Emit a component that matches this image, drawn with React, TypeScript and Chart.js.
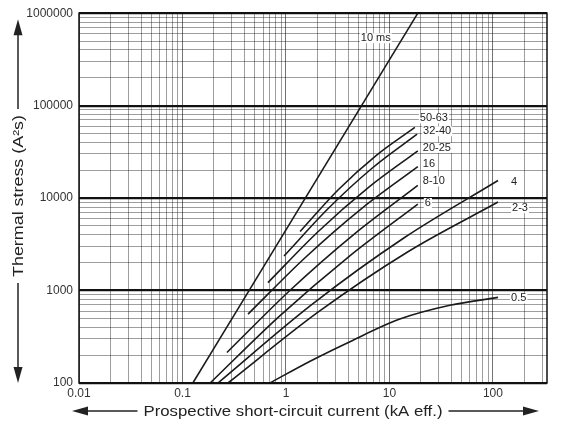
import { useEffect, useRef } from 'react';
import { Chart, registerables } from 'chart.js';
Chart.register(...registerables);

// ---- data (kA, A²s) ----
const xTickLabels = ['0.01', '0.1', '1', '10', '100'];
const yTickLabels = ['100', '1000', '10000', '100000', '1000000'];

const curveNames = ['10 ms', '50-63', '32-40', '20-25', '16', '8-10', '6', '4', '2-3', '0.5'];

const current10ms = [0.126, 18.8];
const stress10ms = [100, 1000000];
const current50_63 = [1.37, 3.2, 7.52, 17.6];
const stress50_63 = [4350, 12300, 29200, 58300];
const current32_40 = [0.957, 2.56, 6.88, 18.5];
const stress32_40 = [2360, 7710, 21300, 49100];
const current20_25 = [0.67, 2.04, 6.2, 18.8];
const stress20_25 = [1220, 4330, 12900, 32400];
const current16 = [0.43, 1.52, 5.34, 18.8];
const stress16 = [556, 2250, 7660, 21900];
const current8_10 = [0.269, 1.11, 4.57, 18.8];
const stress8_10 = [214, 1020, 4080, 13700];
const current6 = [0.185, 0.861, 4.03, 18.8];
const stress6 = [100, 526, 2320, 8630];
const current4 = [0.22, 1.76, 14.0, 112];
const stress4 = [100, 700, 3750, 15500];
const current2_3 = [0.275, 2.04, 15.1, 112];
const stress2_3 = [100, 583, 2630, 9060];
const current05 = [0.7, 1.71, 4.15, 12.6, 38.4, 112];
const stress05 = [100, 172, 280, 491, 692, 843];

const currents = [current10ms, current50_63, current32_40, current20_25, current16, current8_10, current6, current4, current2_3, current05];
const stresses = [stress10ms, stress50_63, stress32_40, stress20_25, stress16, stress8_10, stress6, stress4, stress2_3, stress05];

// label placement relative to the last point of each curve (style only)
const labelOffsets: [number, number][] = [
  [-57, 25], [5, -9], [6, -3], [5, -3], [5, -3], [5, -4], [7, -1], [13, 1], [14, 6], [13, 1],
];

const FONT = 'Arial, "Liberation Sans", sans-serif';

function isPow10(v: number) {
  const l = Math.log10(v);
  return Math.abs(l - Math.round(l)) < 1e-6;
}

function logTicks(min: number, max: number) {
  const out: { value: number; major: boolean }[] = [];
  for (let e = Math.floor(Math.log10(min)); e <= Math.ceil(Math.log10(max)); e++) {
    for (let k = 1; k <= 9; k++) {
      const v = +(k * Math.pow(10, e)).toPrecision(6);
      if (v >= min * 0.999 && v <= max * 1.001) out.push({ value: v, major: k === 1 });
    }
  }
  return out;
}

function arrowHead(ctx: CanvasRenderingContext2D, tx: number, ty: number, dx: number, dy: number, len: number, half: number) {
  const bx = tx - dx * len;
  const by = ty - dy * len;
  ctx.beginPath();
  ctx.moveTo(tx, ty);
  ctx.lineTo(bx - dy * half, by + dx * half);
  ctx.lineTo(bx + dy * half, by - dx * half);
  ctx.closePath();
  ctx.fill();
}

function fittedText(ctx: CanvasRenderingContext2D, text: string, cx: number, cy: number, target: number, rotate: boolean) {
  ctx.save();
  ctx.font = `15px ${FONT}`;
  const w = ctx.measureText(text).width;
  const sx = target / w;
  ctx.translate(cx, cy);
  if (rotate) ctx.rotate(-Math.PI / 2);
  ctx.fillStyle = '#fff';
  ctx.fillRect(-target / 2 - 6, -9, target + 12, 18);
  ctx.scale(sx, 1);
  ctx.fillStyle = '#222';
  ctx.textAlign = 'center';
  ctx.textBaseline = 'middle';
  ctx.fillText(text, 0, 1);
  ctx.restore();
}

const decorPlugin = {
  id: 'decor',
  afterDatasetsDraw(chart: any) {
    const ctx: CanvasRenderingContext2D = chart.ctx;
    const a = chart.chartArea;
    ctx.save();
    ctx.font = `11px ${FONT}`;
    ctx.textBaseline = 'middle';
    ctx.textAlign = 'left';
    chart.data.datasets.forEach((ds: any, i: number) => {
      const meta = chart.getDatasetMeta(i);
      const pt = meta.data[meta.data.length - 1];
      const [dx, dy] = labelOffsets[i];
      const x = pt.x + dx;
      const y = pt.y + dy;
      const w = ctx.measureText(ds.label).width;
      ctx.fillStyle = '#fff';
      ctx.fillRect(x - 1, y - 5, w + 2, 10);
      ctx.fillStyle = '#222';
      ctx.fillText(ds.label, x, y);
    });
    ctx.strokeStyle = '#111';
    ctx.lineWidth = 1.5;
    ctx.strokeRect(a.left, a.top, a.right - a.left, a.bottom - a.top);
    ctx.restore();
  },
  afterDraw(chart: any) {
    const ctx: CanvasRenderingContext2D = chart.ctx;
    const a = chart.chartArea;
    ctx.save();
    ctx.strokeStyle = '#222';
    ctx.fillStyle = '#222';
    ctx.lineWidth = 1.5;

    const ax = 18;
    const yTop = a.top + 6;
    const yBot = a.bottom;
    ctx.beginPath();
    ctx.moveTo(ax, yTop + 10);
    ctx.lineTo(ax, yBot - 10);
    ctx.stroke();
    arrowHead(ctx, ax, yTop, 0, -1, 16, 4.5);
    arrowHead(ctx, ax, yBot, 0, 1, 16, 4.5);
    fittedText(ctx, 'Thermal stress (A²s)', ax, 196, 162, true);

    const ay = 411;
    const xL = a.left - 7;
    const xR = a.right - 8;
    ctx.beginPath();
    ctx.moveTo(xL + 10, ay);
    ctx.lineTo(xR - 10, ay);
    ctx.stroke();
    arrowHead(ctx, xL, ay, -1, 0, 16, 4.5);
    arrowHead(ctx, xR, ay, 1, 0, 16, 4.5);
    fittedText(ctx, 'Prospective short-circuit current (kA eff.)', 293, ay, 299, false);
    ctx.restore();
  },
};

export default function App() {
  const ref = useRef<HTMLCanvasElement | null>(null);
  useEffect(() => {
    if (!ref.current) return;
    const datasets = curveNames.map((name, i) => ({
      label: name,
      data: currents[i].map((c, j) => ({ x: c, y: stresses[i][j] })),
      showLine: true,
      borderColor: '#1a1a1a',
      borderWidth: 1.6,
      pointRadius: 0,
      cubicInterpolationMode: 'monotone' as const,
      fill: false,
    }));
    const chart = new Chart(ref.current, {
      type: 'scatter',
      data: { datasets },
      plugins: [decorPlugin],
      options: {
        animation: false,
        responsive: false,
        devicePixelRatio: 1,
        layout: { padding: { left: 0, right: 20, top: 0, bottom: 0 } },
        plugins: { legend: { display: false }, tooltip: { enabled: false }, title: { display: false } },
        scales: {
          x: {
            type: 'logarithmic',
            min: 0.01,
            max: 333,
            afterBuildTicks: (scale: any) => { scale.ticks = logTicks(0.01, 333); },
            afterFit: (scale: any) => { scale.height = 46; },
            ticks: {
              autoSkip: false,
              maxRotation: 0,
              padding: 3,
              color: '#333',
              font: { family: FONT, size: 12 },
              callback: (v: any) => (isPow10(Number(v)) ? xTickLabels[Math.round(Math.log10(Number(v))) + 2] : ''),
            },
            grid: {
              drawTicks: false,
              color: (c: any) => (c.tick && isPow10(c.tick.value) ? 'rgba(0,0,0,0.55)' : 'rgba(0,0,0,0.38)'),
              lineWidth: 1,
            },
            border: { display: false },
          },
          y: {
            type: 'logarithmic',
            min: 100,
            max: 1000000,
            afterBuildTicks: (scale: any) => { scale.ticks = logTicks(100, 1000000); },
            afterFit: (scale: any) => { scale.width = 79; },
            ticks: {
              autoSkip: false,
              padding: 6,
              color: '#333',
              font: { family: FONT, size: 12 },
              callback: (v: any) => (isPow10(Number(v)) ? yTickLabels[Math.round(Math.log10(Number(v))) - 2] : ''),
            },
            grid: {
              drawTicks: false,
              color: (c: any) => (c.tick && isPow10(c.tick.value) ? '#111' : 'rgba(0,0,0,0.38)'),
              lineWidth: (c: any) => (c.tick && isPow10(c.tick.value) ? 2.2 : 1),
            },
            border: { display: false },
          },
        },
      },
    });
    return () => chart.destroy();
  }, []);
  return (
    <div style={{ position: 'fixed', left: 0, top: 0, width: 567, height: 429, background: '#fff' }}>
      <canvas ref={ref} width={567} height={429} />
    </div>
  );
}
